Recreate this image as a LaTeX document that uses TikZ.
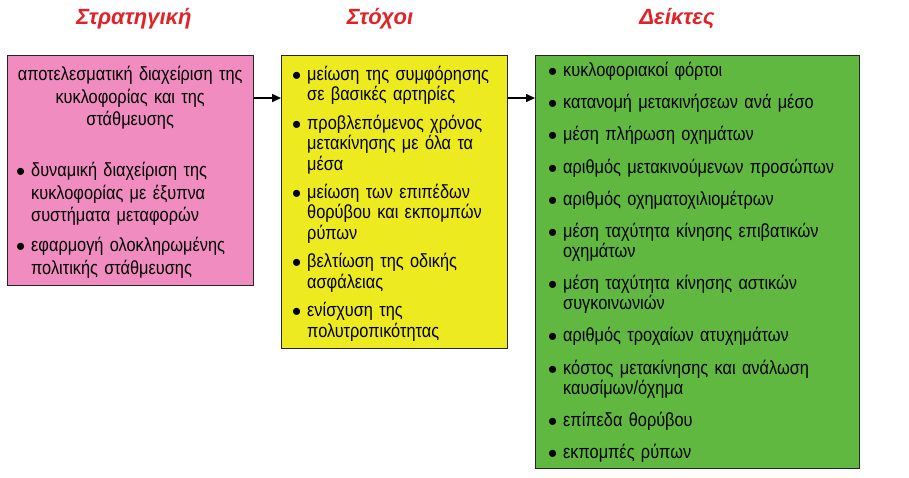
\documentclass[tikz,border=0pt]{standalone}
\usepackage{fontspec}
\setmainfont{Liberation Sans}
\newfontfamily\boxfont{Liberation Sans}[FakeStretch=0.86]
\usetikzlibrary{arrows.meta}
\definecolor{stratpink}{RGB}{240,140,192}
\definecolor{stochyellow}{RGB}{238,234,32}
\definecolor{deiktgreen}{RGB}{96,184,64}
\definecolor{titlered}{RGB}{225,35,40}
\newcommand{\bdot}{\raisebox{-4pt}{\rmfamily\fontsize{26}{20}\selectfont\textbullet}}
\newcommand{\bul}[1]{\noindent\hangindent=15pt\hangafter=1\makebox[15pt][l]{\bdot}#1\par}
\begin{document}
\begin{tikzpicture}
  [x=1pt,y=-1pt,every node/.style={inner sep=0pt}]
  \tikzstyle{box} = [draw=black!85,line width=1.2pt,anchor=north west]
  \tikzstyle{title} = [text=titlered,font=\fontsize{22}{26}\selectfont\bfseries\itshape]
  \tikzstyle{items} = [anchor=north west,align=left,font=\boxfont\fontsize{19}{20}\selectfont]
  \tikzstyle{link} = [line width=1.6pt,-{Triangle[length=9pt,width=8pt]}]
  \useasboundingbox (0,0) rectangle (909,477);

  % titles
  \node[title] (tstrat) at (134,19) {Στρατηγική};
  \node[title] (tstoch) at (380,19) {Στόχοι};
  \node[title] (tdeikt) at (677,19) {Δείκτες};

  % boxes
  \node[box,fill=stratpink,minimum width=246pt,minimum height=230pt] (strat) at (7,55) {};
  \node[box,fill=stochyellow,minimum width=226pt,minimum height=293pt] (stoch) at (281,55) {};
  \node[box,fill=deiktgreen,minimum width=324pt,minimum height=413pt] (deikt) at (535,55) {};

  % contents
  \node[items,text width=228pt,font=\boxfont\fontsize{19}{22.5}\selectfont] (strattext) at (16,66) {%
    {\centering αποτελεσματική διαχείριση της\\ κυκλοφορίας και της\\ στάθμευσης\par}
    \setlength{\parskip}{7.5pt}\vspace{21pt}
    \bul{δυναμική διαχείριση της\newline κυκλοφορίας με έξυπνα\newline συστήματα μεταφορών}
    \bul{εφαρμογή ολοκληρωμένης\newline πολιτικής στάθμευσης}};
  \node[items,text width=210pt,font=\boxfont\fontsize{19}{20.3}\selectfont] (stochtext) at (292,66) {%
    \setlength{\parskip}{8.3pt}%
    \bul{μείωση της συμφόρησης\newline σε βασικές αρτηρίες}
    \bul{προβλεπόμενος χρόνος\newline μετακίνησης με όλα τα\newline μέσα}
    \bul{μείωση των επιπέδων\newline θορύβου και εκπομπών\newline ρύπων}
    \bul{βελτίωση της οδικής\newline ασφάλειας}
    \bul{ενίσχυση της\newline πολυτροπικότητας}};
  \node[items,text width=308pt] (deikttext) at (548,62) {%
    \setlength{\parskip}{12.2pt}%
    \bul{κυκλοφοριακοί φόρτοι}
    \bul{κατανομή μετακινήσεων ανά μέσο}
    \bul{μέση πλήρωση οχημάτων}
    \bul{αριθμός μετακινούμενων προσώπων}
    \bul{αριθμός οχηματοχιλιομέτρων}
    \bul{μέση ταχύτητα κίνησης επιβατικών\newline οχημάτων}
    \bul{μέση ταχύτητα κίνησης αστικών\newline συγκοινωνιών}
    \bul{αριθμός τροχαίων ατυχημάτων}
    \bul{κόστος μετακίνησης και ανάλωση\newline καυσίμων/όχημα}
    \bul{επίπεδα θορύβου}
    \bul{εκπομπές ρύπων}};

  % arrows
  \coordinate (arr) at (0,98);
  \foreach \source/\dest in {strat/stoch,stoch/deikt}
    \draw[link] (\source.east |- arr) -- (\dest.west |- arr);
\end{tikzpicture}
\end{document}
